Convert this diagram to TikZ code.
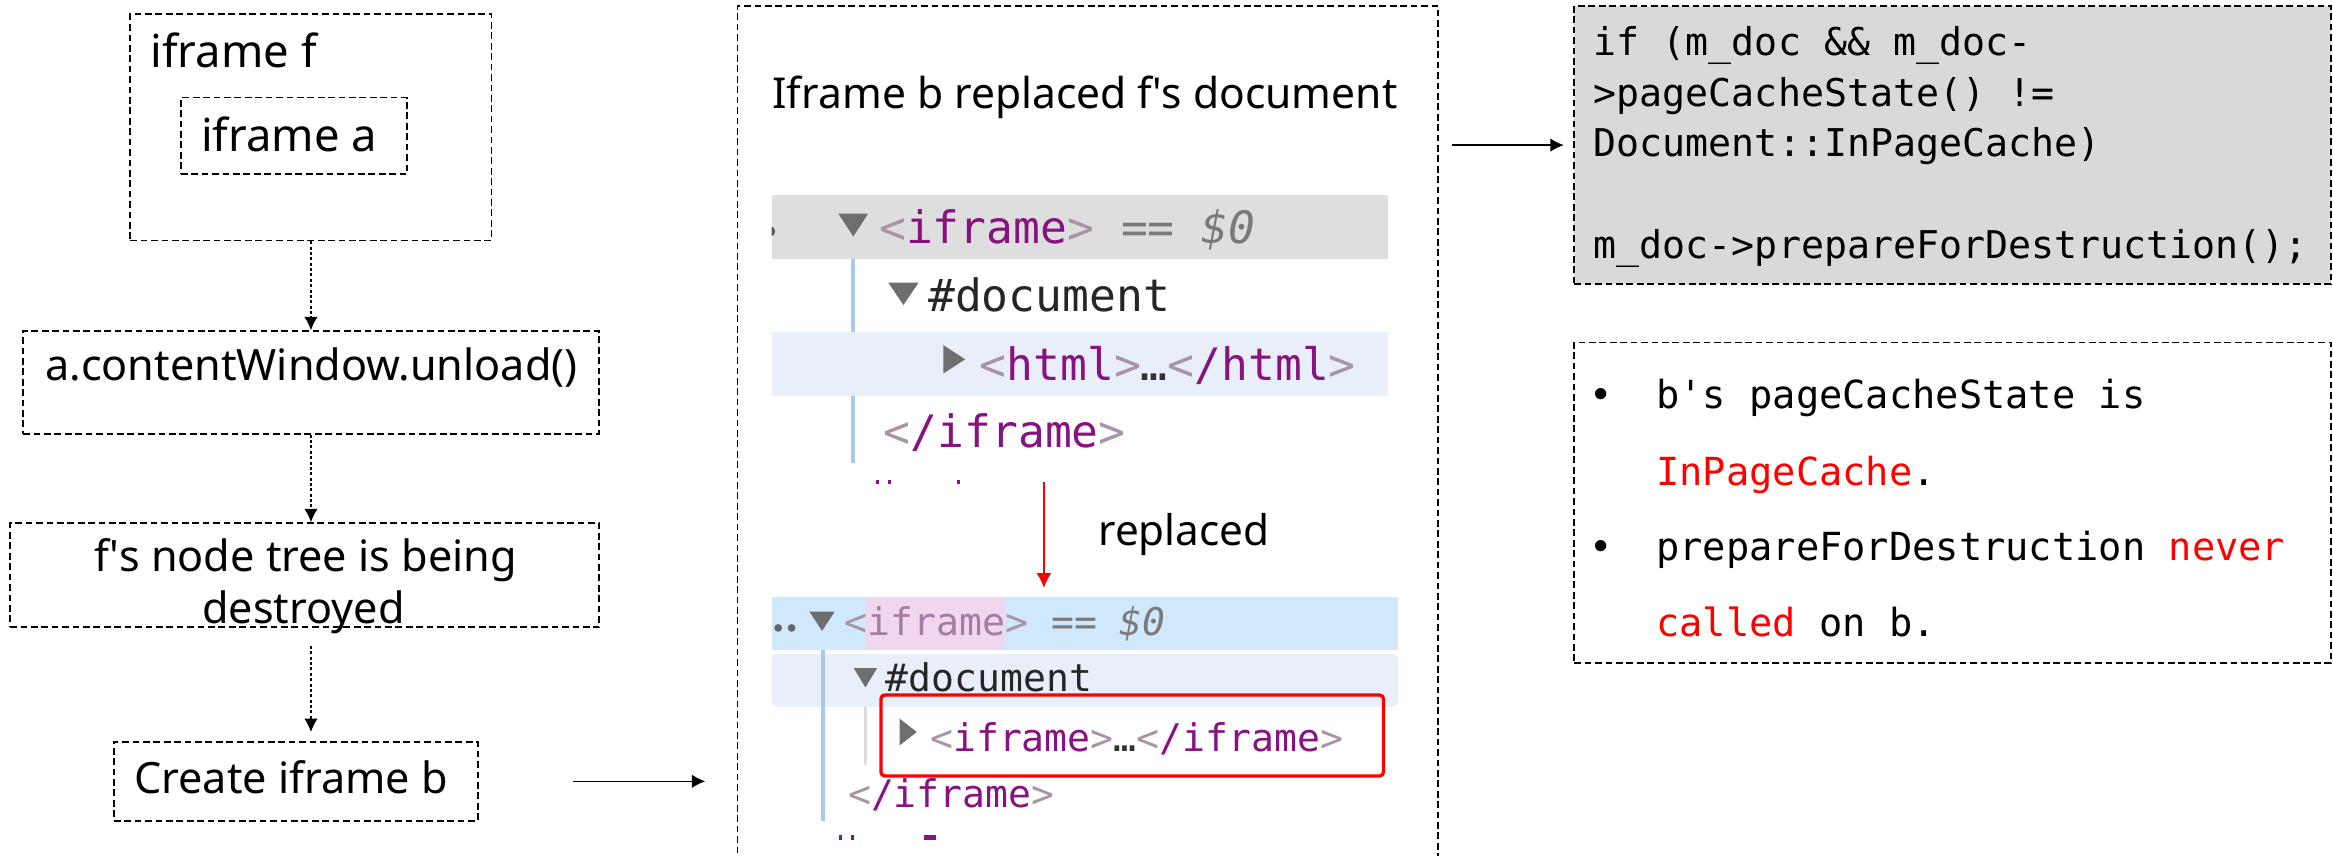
\documentclass[tikz,border=0pt]{standalone}
\usepackage{fontspec}
\setmainfont{Noto Sans}
\newfontfamily\codefnt{DejaVu Sans Mono}
\usetikzlibrary{arrows.meta}
\definecolor{tagc}{HTML}{881280}
\definecolor{brk}{HTML}{A894A6}
\definecolor{dimc}{HTML}{7A7A7A}
\definecolor{barg}{HTML}{DEDEDE}
\definecolor{rowb}{HTML}{E8EFFA}
\definecolor{selb}{HTML}{CFE8FC}
\definecolor{pinkh}{HTML}{F1D7EE}
\definecolor{hltag}{HTML}{A57CA3}
\definecolor{vline}{HTML}{A8C8F0}
\definecolor{gline}{HTML}{DCDCDC}
\definecolor{codebg}{HTML}{D9D9D9}
\definecolor{redc}{HTML}{FF0000}
\definecolor{tric}{HTML}{6E6E6E}
\newcommand\mfs[1]{\codefnt\fontsize{#1}{#1}\selectfont}
\newcommand\sfs[1]{\fontsize{#1}{#1}\selectfont}
\begin{document}
\begin{tikzpicture}[x=1pt,y=-1pt,
  dbox/.style={draw, dash pattern=on 4.5pt off 2.5pt, line width=1.2pt, inner sep=0pt, anchor=north west},
  lbla/.style={font=\sfs{30.5}, inner sep=0pt},
  lblb/.style={font=\sfs{29}, inner sep=0pt},
  txt/.style={inner sep=0pt, anchor=base west},
  darr/.style={-{Latex[length=9pt,width=9pt]}, dash pattern=on 2pt off 1.6pt, line width=0.9pt},
  sarr/.style={-{Latex[length=9pt,width=9pt]}, line width=0.9pt},
  rarr/.style={-{Latex[length=10pt,width=10pt]}, line width=1pt, draw=redc, fill=redc},
  tri/.style={fill=tric}
]
\useasboundingbox (0,0) rectangle (1568,575);

% ---------------- left column
\node[dbox, minimum width=242.7pt, minimum height=152pt] (fbox) at (87,9) {};
\node[lbla, anchor=base west] (ftxt) at (101,45.5) {iframe f};
\node[dbox, minimum width=152pt, minimum height=51.5pt] (abox) at (121,65) {};
\node[lbla, anchor=base west] (atxt) at (135,101.5) {iframe a};
\node[dbox, minimum width=387pt, minimum height=69pt] (ubox) at (15,222) {};
\node[lblb, anchor=base] (utxt) at (209.3,255.5) {a.contentWindow.unload()};
\node[dbox, minimum width=396pt, minimum height=70pt] (nbox) at (6.2,351) {};
\node[lblb, anchor=base] (ntxt1) at (205.5,384) {f\textquotesingle s node tree is being};
\node[lblb, anchor=base] (ntxt2) at (204,419) {destroyed};
\node[dbox, minimum width=244.5pt, minimum height=53pt] (cbox) at (76,498) {};
\node[lblb, anchor=base west] (ctxt) at (90,533) {Create iframe b};

\coordinate (col) at (209,0);
\draw[darr] (fbox.south -| col) -- (ubox.north -| col);
\draw[darr] (ubox.south -| col) -- (nbox.north -| col);
\draw[darr, shorten <=12pt, shorten >=6pt] (nbox.south -| col) -- (cbox.north -| col);

% ---------------- middle panel
\node[dbox, minimum width=471pt, minimum height=600pt] (big) at (495,3.4) {};
\draw[sarr, shorten <=63.5pt, shorten >=21pt] (cbox.east) -- (cbox.east -| big.west);
\node[txt, font=\sfs{28.6}] (title) at (519,72.8) {Iframe b replaced f\textquotesingle s document};

% screenshot 1
\fill[barg] (518.6,131) rectangle (933,174.3);
\begin{scope}
  \clip (518.6,140) rectangle (530,170);
  \fill[black!65] (517.5,155.5) circle (3.5);
\end{scope}
\fill[tri] (563.4,143.5) -- (583.5,143.5) -- (573.5,159) -- cycle;
\node[txt, font=\mfs{30}] (s1a) at (590.7,163.5)
  {\textcolor{brk}{<}\textcolor{tagc}{iframe}\textcolor{brk}{>} \textcolor{dimc}{== {\itshape\$0}}};
\draw[vline, line width=2.5pt] (573.4,174.3) -- (573.4,311);
\fill[tri] (597,190) -- (617.3,190) -- (607.2,205) -- cycle;
\node[txt, font=\mfs{30}, text=black!85] (s1b) at (623.6,209.5) {\#document};
\fill[rowb] (518.6,223) rectangle (933,266);
\fill[tri] (634,232) -- (648.7,241.5) -- (634,251) -- cycle;
\node[txt, font=\mfs{30}] (s1c) at (658.2,255.4)
  {\textcolor{brk}{<}\textcolor{tagc}{html}\textcolor{brk}{>}\textcolor{black!80}{…}\textcolor{brk}{<}\textcolor{tagc}{/html}\textcolor{brk}{>}};
\node[txt, font=\mfs{30}] (s1d) at (593.8,301)
  {\textcolor{brk}{<}\textcolor{tagc}{/iframe}\textcolor{brk}{>}};
\fill[tagc] (589,322.5) rectangle (591,325.5);
\fill[tagc] (597,322.5) rectangle (599,325.5);
\fill[tagc] (643,322.5) rectangle (645,325.5);

% red arrow + label
\coordinate (r1) at (701.6,323.7);
\coordinate (r2) at (701.6,395.2);
\draw[rarr] (r1) -- (r2);
\node[txt, font=\sfs{28.4}] (repl) at (738,366.3) {replaced};

% screenshot 2
\fill[selb] (518.6,401) rectangle (939.8,436.8);
\fill[pinkh, rounded corners=3pt] (581.7,401.6) rectangle (675.4,436);
\fill[black!60] (523,422) circle (2.6);
\fill[black!60] (532,422) circle (2.6);
\fill[tri] (544,411) -- (561,411) -- (552.5,424) -- cycle;
\node[txt, font=\mfs{25.6}] (s2a) at (567.5,426.8)
  {\textcolor{brk}{<}\textcolor{hltag}{iframe}\textcolor{brk}{>} \textcolor{dimc}{== {\itshape\$0}}};
\fill[rowb, rounded corners=4pt] (518.6,439.6) rectangle (939.8,475);
\fill[tri] (573.8,449) -- (589.5,449) -- (581.6,462) -- cycle;
\node[txt, font=\mfs{25.6}, text=black!85] (s2b) at (595,464.8) {\#document};
\draw[gline, line width=2pt] (581.7,475) -- (581.7,514);
\draw[vline, line width=2.5pt] (553,437) -- (553,552);
\fill[tri] (604.6,483) -- (616.2,492) -- (604.6,501) -- cycle;
\node[txt, font=\mfs{25.6}] (s2c) at (625,505)
  {\textcolor{brk}{<}\textcolor{tagc}{iframe}\textcolor{brk}{>}\textcolor{black!80}{…}\textcolor{brk}{<}\textcolor{tagc}{/iframe}\textcolor{brk}{>}};
\node[draw=redc, line width=2.2pt, rounded corners=2.5pt, inner sep=0pt, anchor=north west,
      minimum width=337.7pt, minimum height=54.4pt] (redbox) at (591,466) {};
\node[txt, font=\mfs{25.6}] (s2d) at (569.8,543)
  {\textcolor{brk}{<}\textcolor{tagc}{/iframe}\textcolor{brk}{>}};
\fill[tagc] (564,561.5) rectangle (566,564.5);
\fill[tagc] (572,561.5) rectangle (574,564.5);
\fill[tagc] (621,561.5) rectangle (629,564.5);

% ---------------- right column
\node[dbox, fill=codebg, minimum width=508.5pt, minimum height=187pt] (code) at (1057.5,3.4) {};
\draw[sarr, shorten <=8.5pt, shorten >=6.5pt] (code.west -| big.east) -- (code.west);
\node[txt, font=\mfs{25.7}] (c1) at (1071,37) {if (m\_doc \&\& m\_doc-};
\node[txt, font=\mfs{25.7}] (c2) at (1071,71.7) {>pageCacheState() !=};
\node[txt, font=\mfs{25.7}] (c3) at (1071,105.3) {Document::InPageCache)};
\node[txt, font=\mfs{25.7}] (c4) at (1071,173.6) {m\_doc->prepareForDestruction();};

\node[dbox, minimum width=508.5pt, minimum height=215.4pt] (bul) at (1057.5,229.6) {};
\node[inner sep=0pt, anchor=base, font=\mfs{26}] (b1) at (1076,274.4) {•};
\node[inner sep=0pt, anchor=base, font=\mfs{26}] (b2) at (1076,376.8) {•};
\node[txt, font=\mfs{26}] (l1) at (1113,274.4) {b\textquotesingle s pageCacheState is};
\node[txt, font=\mfs{26}] (l2) at (1113,326) {\textcolor{redc}{InPageCache}.};
\node[txt, font=\mfs{26}] (l3) at (1113,376.8) {prepareForDestruction \textcolor{redc}{never}};
\node[txt, font=\mfs{26}] (l4) at (1113,427.9) {\textcolor{redc}{called} on b.};
\end{tikzpicture}
\end{document}
